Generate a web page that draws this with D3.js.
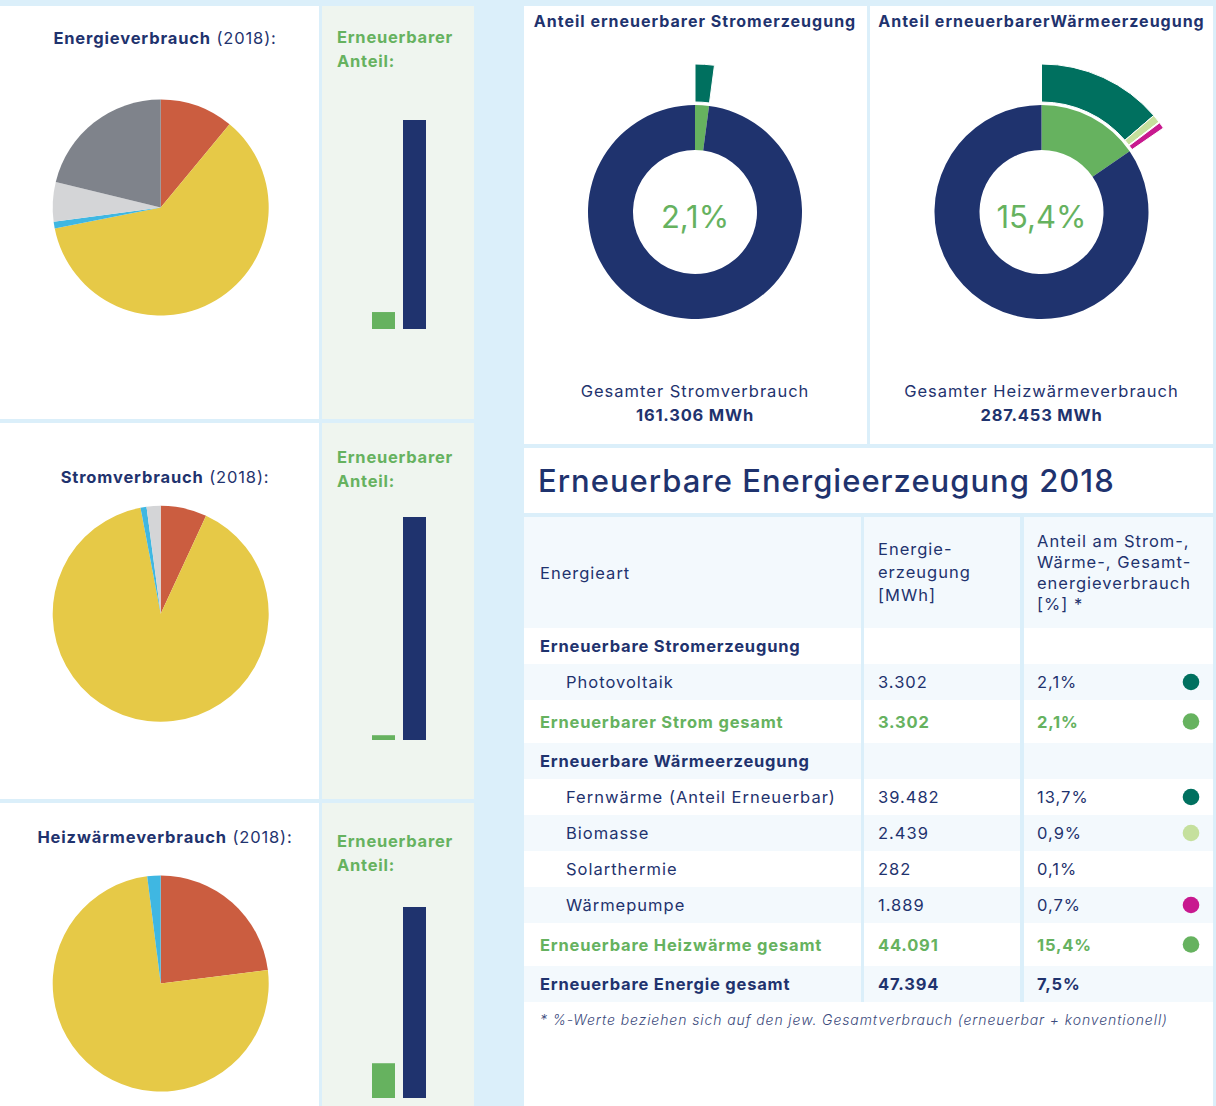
<!DOCTYPE html>
<html lang="de">
<head>
<meta charset="utf-8">
<title>Energieverbrauch und erneuerbare Energieerzeugung 2018</title>
<script src="https://cdn.jsdelivr.net/npm/d3@7"></script>
<style>
  html, body { margin: 0; padding: 0; background: #dbeffa; }
  svg { display: block; font-family: Inter, "Noto Sans", "DejaVu Sans", sans-serif; }
</style>
</head>
<body>
<svg id="chart" width="1216" height="1106"></svg>
<script>
// ---------- data ----------
const sliceKeys = ["rot", "gelb", "blau", "hellgrau", "grau"];
const energyPieValues = [11.0, 60.9, 1.0, 5.9, 21.2];
const stromPieValues  = [6.9, 90.1, 0.9, 2.1, 0];
const heatPieValues   = [23.0, 75.0, 2.0, 0, 0];

const pieTitlesBold = ["Energieverbrauch", "Stromverbrauch", "Heizwärmeverbrauch"];
const pieTitleYear = " (2018):";

const barKeys = ["erneuerbar", "konventionell"];
const barRenewable    = [7.5, 2.1, 15.4];
const barConventional = [92.5, 97.9, 84.6];

const donutTitles = ["Anteil erneuerbarer Stromerzeugung", "Anteil erneuerbarerWärmeerzeugung"];
const donutShares = [2.1, 15.4];
const donutShareLabels = ["2,1%", "15,4%"];
const donutTotalsLabel = ["Gesamter Stromverbrauch", "Gesamter Heizwärmeverbrauch"];
const donutTotals = ["161.306 MWh", "287.453 MWh"];
const stromSourceNames = ["Photovoltaik"];
const stromSourceValues = [2.1];
const heatSourceNames = ["Fernwärme", "Biomasse", "Solarthermie", "Wärmepumpe"];
const heatSourceValues = [13.7, 0.9, 0.1, 0.7];

const tableTitle = "Erneuerbare Energieerzeugung 2018";
const headerCol1 = ["Energieart"];
const headerCol2 = ["Energie-", "erzeugung", "[MWh]"];
const headerCol3 = ["Anteil am Strom-,", "Wärme-, Gesamt-", "energieverbrauch", "[%] *"];
const tableLabels = ["Erneuerbare Stromerzeugung", "Photovoltaik", "Erneuerbarer Strom gesamt",
  "Erneuerbare Wärmeerzeugung", "Fernwärme (Anteil Erneuerbar)", "Biomasse", "Solarthermie",
  "Wärmepumpe", "Erneuerbare Heizwärme gesamt", "Erneuerbare Energie gesamt"];
const tableEnergy = ["", "3.302", "3.302", "", "39.482", "2.439", "282", "1.889", "44.091", "47.394"];
const tableShare  = ["", "2,1%", "2,1%", "", "13,7%", "0,9%", "0,1%", "0,7%", "15,4%", "7,5%"];
const tableRowType = ["section", "item", "subtotal", "section", "item", "item", "item", "item", "subtotal", "total"];
const tableDotKey = [null, "Photovoltaik", "gesamt", null, "Fernwärme", "Biomasse", null, "Wärmepumpe", "gesamt", null];
const footnote = "* %-Werte beziehen sich auf den jew. Gesamtverbrauch (erneuerbar + konventionell)";

// ---------- styles ----------
const col = {
  bg: "#dbeffa", white: "#ffffff", navy: "#1f336e", green: "#66b25f",
  panelGreen: "#eff5ef", rowAlt: "#f3f9fd"
};
const sliceColor = d3.scaleOrdinal(sliceKeys, ["#cb5d40", "#e6c947", "#3fb7e2", "#d4d5d7", "#7f838b"]);
const sourceColor = d3.scaleOrdinal(
  ["Photovoltaik", "Fernwärme", "Biomasse", "Solarthermie", "Wärmepumpe", "gesamt"],
  ["#00705f", "#00705f", "#c5e09d", "#ffffff", "#c8198f", "#66b25f"]);

const svg = d3.select("#chart");
svg.append("rect").attr("width", 1216).attr("height", 1106).attr("fill", col.bg);

// ---------- left column: consumption pies + renewable share bars ----------
const bands = [
  { y0: 6,   y1: 419,  titleY: 44,  anteilY: 43,  cy: 207.5, barTop: 120, barBottom: 329 },
  { y0: 423, y1: 799,  titleY: 483, anteilY: 463, cy: 613.8, barTop: 517, barBottom: 740 },
  { y0: 803, y1: 1106, titleY: 843, anteilY: 847, cy: 983.5, barTop: 907, barBottom: 1098 }
];
const pieValues = [energyPieValues, stromPieValues, heatPieValues];

const pie = d3.pie().sort(null).value(d => d.value);
const pieArc = d3.arc().innerRadius(0).outerRadius(108);
const xBar = d3.scaleBand().domain(barKeys).range([372, 426]).paddingInner(0.258);

bands.forEach((b, i) => {
  svg.append("rect").attr("x", 0).attr("y", b.y0).attr("width", 319).attr("height", b.y1 - b.y0).attr("fill", col.white);
  svg.append("rect").attr("x", 322).attr("y", b.y0).attr("width", 152).attr("height", b.y1 - b.y0).attr("fill", col.panelGreen);

  const t = svg.append("text").attr("x", 165).attr("y", b.titleY).attr("text-anchor", "middle")
    .attr("font-size", 16.5).attr("letter-spacing", 0.85).attr("fill", col.navy);
  t.append("tspan").attr("font-weight", 700).text(pieTitlesBold[i]);
  t.append("tspan").attr("font-weight", 400).text(pieTitleYear);

  const g = svg.append("g").attr("transform", `translate(160.7,${b.cy})`);
  const data = pieValues[i].map((v, k) => ({ key: sliceKeys[k], value: v }));
  g.selectAll("path").data(pie(data).filter(d => d.data.value > 0)).join("path")
    .attr("d", pieArc).attr("fill", d => sliceColor(d.data.key));

  const a = svg.append("text").attr("x", 337).attr("y", b.anteilY)
    .attr("font-size", 16.5).attr("font-weight", 700).attr("letter-spacing", 0.75).attr("fill", col.green);
  a.append("tspan").attr("x", 337).text("Erneuerbarer");
  a.append("tspan").attr("x", 337).attr("dy", 24).text("Anteil:");

  const y = d3.scaleLinear().domain([0, barConventional[i]]).range([b.barBottom, b.barTop]);
  const barData = [
    { key: "erneuerbar", value: barRenewable[i], color: col.green },
    { key: "konventionell", value: barConventional[i], color: col.navy }
  ];
  svg.append("g").selectAll("rect").data(barData).join("rect")
    .attr("x", d => xBar(d.key)).attr("width", xBar.bandwidth())
    .attr("y", d => y(d.value)).attr("height", d => y(0) - y(d.value))
    .attr("fill", d => d.color);
});

// ---------- donuts: renewable shares of electricity and heat ----------
const donutCx = [695, 1041.5];
const donutSources = [
  stromSourceNames.map((n, k) => ({ name: n, value: stromSourceValues[k] })),
  heatSourceNames.map((n, k) => ({ name: n, value: heatSourceValues[k] }))
];
const ringArc = d3.arc().innerRadius(62).outerRadius(107);
const burstArc = d3.arc().innerRadius(110).outerRadius(148);

donutCx.forEach((cx, i) => {
  svg.append("rect").attr("x", i === 0 ? 524 : 870).attr("y", 6)
    .attr("width", 343).attr("height", 438).attr("fill", col.white);

  svg.append("text").attr("x", cx).attr("y", 27).attr("text-anchor", "middle")
    .attr("font-size", 16).attr("font-weight", 700).attr("letter-spacing", 1.0).attr("fill", col.navy)
    .text(donutTitles[i]);

  const g = svg.append("g").attr("transform", `translate(${cx},212)`);
  const ring = pie([
    { key: "erneuerbar", value: donutShares[i] },
    { key: "konventionell", value: 100 - donutShares[i] }
  ]);
  g.selectAll("path.ring").data(ring).join("path").attr("class", "ring")
    .attr("d", ringArc).attr("fill", d => d.data.key === "erneuerbar" ? col.green : col.navy);

  const srcTotal = d3.sum(donutSources[i], d => d.value);
  const burst = pie(donutSources[i].concat([{ name: "rest", value: 100 - srcTotal }]))
    .filter(d => d.data.name !== "rest");
  g.selectAll("path.burst").data(burst).join("path").attr("class", "burst")
    .attr("d", burstArc).attr("fill", d => sourceColor(d.data.name))
    .attr("stroke", col.white).attr("stroke-width", 1);

  g.append("text").attr("y", 16).attr("text-anchor", "middle")
    .attr("font-size", 31).attr("font-weight", 400).attr("fill", col.green)
    .text(donutShareLabels[i]);

  svg.append("text").attr("x", cx).attr("y", 397).attr("text-anchor", "middle")
    .attr("font-size", 16.5).attr("letter-spacing", 1.0).attr("fill", col.navy).text(donutTotalsLabel[i]);
  svg.append("text").attr("x", cx).attr("y", 421).attr("text-anchor", "middle")
    .attr("font-size", 16.5).attr("font-weight", 700).attr("letter-spacing", 0.8).attr("fill", col.navy).text(donutTotals[i]);
});

// ---------- table: renewable energy production ----------
svg.append("rect").attr("x", 524).attr("y", 448).attr("width", 689).attr("height", 65).attr("fill", col.white);
svg.append("text").attr("x", 538).attr("y", 492).attr("font-size", 31).attr("font-weight", 500)
  .attr("letter-spacing", 1.0).attr("fill", col.navy).text(tableTitle);

const columns = [
  { x0: 524, x1: 861, tx: 540 },
  { x0: 864, x1: 1020, tx: 878 },
  { x0: 1024, x1: 1213, tx: 1037 }
];
const headerTop = 517, headerBottom = 628;
columns.forEach(c => {
  svg.append("rect").attr("x", c.x0).attr("y", headerTop).attr("width", c.x1 - c.x0)
    .attr("height", headerBottom - headerTop).attr("fill", col.rowAlt);
});
const headerText = (lines, c, firstBaseline, lh) => {
  const t = svg.append("text").attr("font-size", 16.5).attr("letter-spacing", 1.0).attr("fill", col.navy);
  lines.forEach((l, k) => t.append("tspan").attr("x", c.tx).attr("y", firstBaseline + k * lh).text(l));
};
headerText(headerCol1, columns[0], 579, 21);
headerText(headerCol2, columns[1], 555, 23);
headerText(headerCol3, columns[2], 547, 21);

const rowHeight = t => (t === "subtotal" ? 43 : 36);
let yCursor = headerBottom;
const rowsLayout = tableLabels.map((label, k) => {
  const h = rowHeight(tableRowType[k]);
  const r = { label, k, y: yCursor, h, type: tableRowType[k] };
  yCursor += h;
  return r;
});
const tableBottom = yCursor;

svg.append("rect").attr("x", 524).attr("y", tableBottom).attr("width", 689)
  .attr("height", 1106 - tableBottom).attr("fill", col.white);

rowsLayout.forEach(r => {
  const fill = r.k % 2 === 0 ? col.white : col.rowAlt;
  columns.forEach(c => {
    svg.append("rect").attr("x", c.x0).attr("y", r.y).attr("width", c.x1 - c.x0)
      .attr("height", r.h).attr("fill", fill);
  });
  const isBold = r.type !== "item";
  const color = r.type === "subtotal" ? col.green : col.navy;
  const base = r.y + r.h / 2 + 6;
  const cells = [r.label, tableEnergy[r.k], tableShare[r.k]];
  cells.forEach((txt, ci) => {
    if (!txt) return;
    const x = ci === 0 && r.type === "item" ? 566 : columns[ci].tx;
    svg.append("text").attr("x", x).attr("y", base).attr("font-size", 16.5)
      .attr("letter-spacing", isBold ? 0.8 : 1.0)
      .attr("font-weight", isBold ? 700 : 400).attr("fill", color).text(txt);
  });
  if (tableDotKey[r.k]) {
    svg.append("circle").attr("cx", 1191).attr("cy", r.y + r.h / 2).attr("r", 8.3)
      .attr("fill", sourceColor(tableDotKey[r.k]));
  }
});

svg.append("text").attr("x", 540).attr("y", 1025).attr("font-size", 14).attr("font-style", "italic")
  .attr("font-weight", 300).attr("letter-spacing", 0.9).attr("fill", "#3b4a7c").text(footnote);
</script>
</body>
</html>
